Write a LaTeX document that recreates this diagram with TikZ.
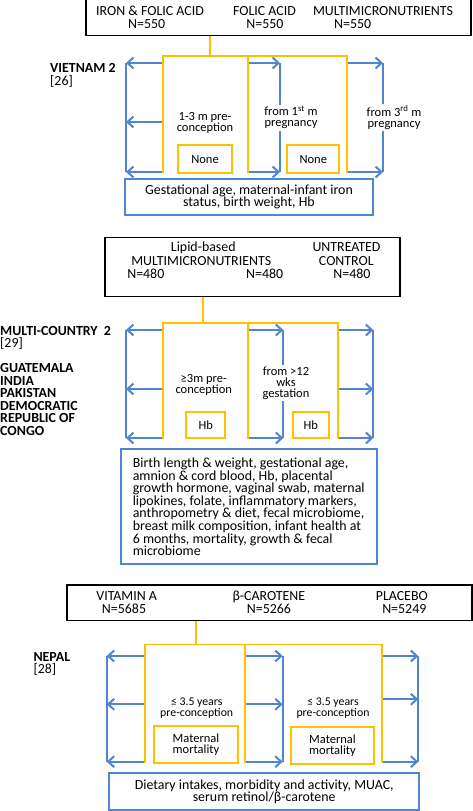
\documentclass[tikz,border=0pt]{standalone}
\usepackage{fontspec}
\setmainfont{Carlito}
\usetikzlibrary{arrows.meta}
\definecolor{cblue}{HTML}{4F86CF}
\definecolor{corange}{HTML}{FFC000}
\begin{document}
\begin{tikzpicture}[x=1pt,y=-1pt,
  bigf/.style={font=\fontsize{13.9}{12.6}\selectfont},
  smallf/.style={font=\fontsize{12.5}{11}\selectfont},
  tinyf/.style={font=\fontsize{11.8}{10.5}\selectfont},
  armbox/.style={draw=black, line width=1.1pt, inner sep=0pt},
  outbox/.style={draw=cblue, line width=1.8pt, fill=white, inner sep=0pt, bigf},
  subbox/.style={draw=corange, line width=1.8pt, fill=white, inner sep=0pt, smallf, align=center},
  oline/.style={draw=corange, line width=1.8pt},
  bline/.style={draw=cblue, line width=2pt},
  barrow/.style={draw=cblue, line width=2pt, -{Straight Barb[length=6pt,width=11pt]}},
  hd/.style={bigf, anchor=base, inner sep=0pt},
  hdtwo/.style={font=\fontsize{13.9}{12.9}\selectfont, align=center, inner sep=0pt},
  tl/.style={smallf, align=center, fill=white, inner sep=1.5pt},
  tln/.style={tinyf, align=center, fill=white, inner sep=1.5pt},
  cty/.style={font=\fontsize{13.9}{12.52}\selectfont\bfseries, anchor=base west, inner sep=0pt},
  refl/.style={bigf, anchor=base west, inner sep=0pt}
]
\useasboundingbox (0,0) rectangle (473,811);

% ================= Section 1 : VIETNAM 2
\node[armbox, minimum width=385pt, minimum height=39pt] (arm1) at (278.5,15.8) {};
\node[hd] (a1t) at (150,15.7) {IRON \& FOLIC ACID};
\node[hd] (a1n) at (146.7,28.3) {N=550};
\node[hd] (b1t) at (264.5,15.7) {FOLIC ACID};
\node[hd] (b1n) at (265,28.3) {N=550};
\node[hd] (c1t) at (383,15.7) {MULTIMICRONUTRIENTS};
\node[hd] (c1n) at (352.7,28.3) {N=550};

\coordinate (o1c) at (209.7,56);
\coordinate (o1L) at (163,56);
\coordinate (o1M) at (248,56);
\coordinate (o1R) at (347,56);
\coordinate (o1B) at (0,173);
\coordinate (v1L) at (126,63);
\coordinate (v1M) at (280,63);
\coordinate (v1R) at (383,63);
\coordinate (y1m) at (0,122);
\coordinate (y1b) at (0,172);

\draw[bline] (v1L) -- (v1L |- y1b);
\draw[bline] (v1M) -- (v1M |- y1b);
\draw[bline] (v1R) -- (v1R |- y1b);
\draw[barrow] (v1L -| o1L) -- (v1L);
\draw[barrow] (y1m -| o1L) -- (y1m -| v1L);
\draw[barrow] (y1b -| o1L) -- (y1b -| v1L);
\draw[barrow] (v1M -| o1M) -- (v1M);
\draw[barrow] (y1b -| o1M) -- (y1b -| v1M);
\draw[barrow] (v1R -| o1R) -- (v1R);
\draw[barrow] (y1b -| o1R) -- (y1b -| v1R);

\draw[oline] (arm1.south -| o1c) -- (o1c);
\draw[oline] (o1L |- o1B) -- (o1L) -- (o1R) -- (o1R |- o1B);
\draw[oline] (o1M) -- (o1M |- o1B);

\node[tl] (p1a) at (205,123.3) {1-3 m pre-\\conception};
\node[tl] (p1b) at (291,117.6) {from 1\textsuperscript{st} m\\pregnancy};
\node[tl] (p1c) at (394,117.6) {from 3\textsuperscript{rd} m\\pregnancy};

\node[subbox, minimum width=53.4pt, minimum height=28.3pt] (n1a) at (205,159.2) {None};
\node[subbox, minimum width=52pt, minimum height=28.3pt] (n1b) at (313.3,159.2) {None};

\node[outbox, align=center, minimum width=247.4pt, minimum height=36.6pt] (out1) at (249,197)
  {Gestational age, maternal-infant iron\\status, birth weight, Hb};

\node[cty] (k1) at (50,72.3) {VIETNAM 2};
\node[refl] (r1) at (50,85) {[26]};

% ================= Section 2 : MULTI-COUNTRY 2
\node[armbox, minimum width=295pt, minimum height=59.4pt] (arm2) at (252.5,267) {};
\node[hd] (a2l) at (203.3,251.7) {Lipid-based};
\node[hd] (a2t) at (201.2,265.3) {MULTIMICRONUTRIENTS};
\node[hd] (a2n) at (145.8,278.7) {N=480};
\node[hd] (b2n) at (264.7,278.7) {N=480};
\node[hd] (c2t) at (346.5,251.7) {UNTREATED};
\node[hd] (c2u) at (346.3,265.3) {CONTROL};
\node[hd] (c2n) at (352,278.7) {N=480};

\coordinate (o2c) at (203.3,323.3);
\coordinate (o2L) at (163,323.3);
\coordinate (o2M) at (248.3,323.3);
\coordinate (o2R) at (338.3,323.3);
\coordinate (o2B) at (0,438.5);
\coordinate (v2L) at (126,330);
\coordinate (v2M) at (283.3,330);
\coordinate (v2R) at (373.3,330);
\coordinate (y2m) at (0,389);
\coordinate (y2b) at (0,438);

\draw[bline] (v2L) -- (v2L |- y2b);
\draw[bline] (v2M) -- (v2M |- y2b);
\draw[bline] (v2R) -- (v2R |- y2b);
\draw[barrow] (v2L -| o2L) -- (v2L);
\draw[barrow] (y2m -| o2L) -- (y2m -| v2L);
\draw[barrow] (y2b -| o2L) -- (y2b -| v2L);
\draw[barrow] (v2M -| o2M) -- (v2M);
\draw[barrow] (y2b -| o2M) -- (y2b -| v2M);
\draw[barrow] (v2R -| o2R) -- (v2R);
\draw[barrow] (y2m -| o2R) -- (y2m -| v2R);
\draw[barrow] (y2b -| o2R) -- (y2b -| v2R);

\draw[oline] (arm2.south -| o2c) -- (o2c);
\draw[oline] (o2L |- o2B) -- (o2L) -- (o2R) -- (o2R |- o2B);
\draw[oline] (o2M) -- (o2M |- o2B);

\node[tl] (p2a) at (203.8,385.1) {≥3m pre-\\conception};
\node[tl] (p2b) at (286,383.1) {from >12\\wks\\gestation};

\node[subbox, minimum width=39.3pt, minimum height=26pt] (h2a) at (205.7,425.3) {Hb};
\node[subbox, minimum width=36pt, minimum height=26pt] (h2b) at (310.7,425.3) {Hb};

\node[outbox, align=left, minimum width=256pt, minimum height=115pt] (out2) at (248.7,506.8)
  {Birth length \& weight, gestational age,\\
   amnion \& cord blood, Hb, placental\\
   growth hormone, vaginal swab, maternal\\
   lipokines, folate, inflammatory markers,\\
   anthropometry \& diet, fecal microbiome,\\
   breast milk composition, infant health at\\
   6 months, mortality, growth \& fecal\\
   microbiome};

\node[cty] (k2) at (0,335) {MULTI-COUNTRY\ \ 2};
\node[refl] (r2) at (0,347.5) {[29]};
\node[cty, anchor=west, align=left] (k2c) at (0,399.6)
  {GUATEMALA\\INDIA\\PAKISTAN\\DEMOCRATIC\\REPUBLIC OF\\CONGO};

% ================= Section 3 : NEPAL
\node[armbox, minimum width=405pt, minimum height=35.7pt] (arm3) at (269.5,602.85) {};
\node[hdtwo] (a3t) at (126.7,602.4) {VITAMIN A\\N=5685\hspace*{5.4pt}};
\node[hdtwo] (b3t) at (268.9,601.9) {β-CAROTENE\\N=5266};
\node[hdtwo] (c3t) at (401.8,602.4) {PLACEBO\\\hspace*{5pt}N=5249};

\coordinate (o3c) at (195.7,644.5);
\coordinate (o3L) at (145.3,644.5);
\coordinate (o3M) at (245,644.5);
\coordinate (o3R) at (381.7,644.5);
\coordinate (o3B) at (0,762.5);
\coordinate (v3L) at (106.7,656);
\coordinate (v3M) at (282.7,656);
\coordinate (v3R) at (418.3,656);
\coordinate (y3m) at (0,704.3);
\coordinate (y3r) at (0,699.3);
\coordinate (y3b) at (0,761.7);

\draw[bline] (v3L) -- (v3L |- y3b);
\draw[bline] (v3M) -- (v3M |- y3b);
\draw[bline] (v3R) -- (v3R |- y3b);
\draw[barrow] (v3L -| o3L) -- (v3L);
\draw[barrow] (y3m -| o3L) -- (y3m -| v3L);
\draw[barrow] (y3b -| o3L) -- (y3b -| v3L);
\draw[barrow] (v3M -| o3M) -- (v3M);
\draw[barrow] (y3m -| o3M) -- (y3m -| v3M);
\draw[barrow] (y3b -| o3M) -- (y3b -| v3M);
\draw[barrow] (v3R -| o3R) -- (v3R);
\draw[barrow] (y3r -| o3R) -- (y3r -| v3R);
\draw[barrow] (y3b -| o3R) -- (y3b -| v3R);

\draw[oline] (arm3.south -| o3c) -- (o3c);
\draw[oline] (o3L |- o3B) -- (o3L) -- (o3R) -- (o3R |- o3B);
\draw[oline] (o3M) -- (o3M |- o3B);

\node[tln] (p3a) at (196.7,708) {≤ 3.5 years\\pre-conception};
\node[tln] (p3b) at (333,708) {≤ 3.5 years\\pre-conception};

\node[subbox, minimum width=83.4pt, minimum height=37.3pt] (m3a) at (196,744.7) {Maternal\\mortality};
\node[subbox, minimum width=83pt, minimum height=36.7pt] (m3b) at (332.5,745.7) {Maternal\\mortality};

\node[outbox, align=center, minimum width=310.3pt, minimum height=36.7pt] (out3) at (264.2,791.7)
  {Dietary intakes, morbidity and activity, MUAC,\\serum retinol/β-carotene};

\node[cty] (k3) at (33.3,661) {NEPAL};
\node[refl] (r3) at (33.3,673.3) {[28]};
\end{tikzpicture}
\end{document}
